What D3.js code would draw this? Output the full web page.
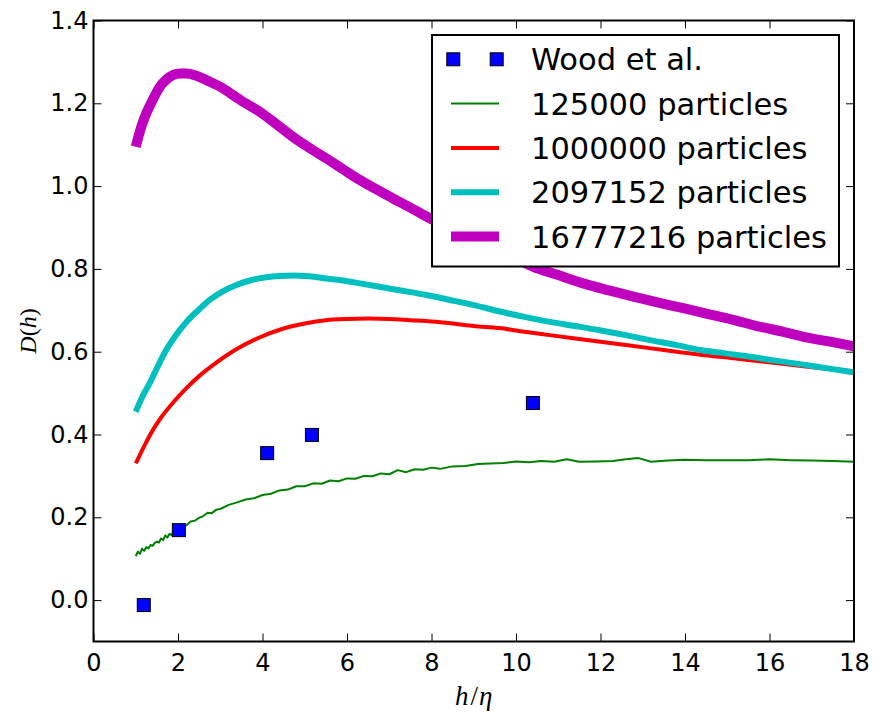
<!DOCTYPE html>
<html lang="en">
  <head>
      <meta charset="utf-8">
      <title>D(h) vs h/eta</title>
      <script type="text/javascript" src="https://cdn.jsdelivr.net/npm/d3@7"></script>
      <style>
        body { margin: 0; background: #fff; }
        text { font-family: "DejaVu Sans", sans-serif; }
      </style>
  </head>
  <body>
      <script type="text/javascript">

      // Wood et al. reference points
      var woodX = [1.19, 2.02, 4.11, 5.17, 10.4];
      var woodY = [-0.012, 0.169, 0.355, 0.399, 0.476];

      // 125000 particles
      var gX = [1.0,1.05,1.1,1.15,1.2,1.25,1.3,1.35,1.4,1.45,1.5,1.55,1.6,1.65,1.7,1.75,1.8,1.85,1.9,1.95,2.0,2.1,2.2,2.3,2.4,2.5,2.6,2.7,2.8,2.9,3.0,
                3.2,3.4,3.6,3.8,4.0,4.2,4.4,4.6,4.8,5.0,5.2,5.4,5.6,5.8,6.0,6.2,6.4,6.6,6.8,7.0,7.2,7.4,7.6,7.8,8.0,8.2,
                8.5,8.8,9.1,9.4,9.7,10.0,10.3,10.6,10.9,11.2,11.5,11.9,12.3,12.6,12.9,13.2,13.6,14.0,14.5,15.0,15.5,16.0,16.5,17.0,17.5,18.0];
      var gY = [0.106,0.117,0.112,0.124,0.119,0.128,0.125,0.133,0.131,0.138,0.141,0.139,0.149,0.145,0.156,0.151,0.160,0.157,0.167,0.163,0.170,0.178,0.181,0.190,0.192,0.199,0.203,0.211,0.210,0.218,0.220,
                0.230,0.236,0.243,0.246,0.254,0.257,0.265,0.267,0.275,0.275,0.282,0.281,0.289,0.287,0.294,0.293,0.300,0.299,0.306,0.304,0.314,0.309,0.316,0.315,0.320,0.317,
                0.323,0.324,0.329,0.330,0.331,0.335,0.333,0.336,0.334,0.340,0.334,0.335,0.336,0.340,0.343,0.334,0.337,0.339,0.338,0.338,0.338,0.340,0.338,0.337,0.336,0.334];

      // 1000000 particles
      var rX = [1.0,1.2,1.4,1.6,1.9,2.2,2.5,2.9,3.4,3.9,4.5,5.0,5.5,6.0,6.5,7.0,7.5,8.0,8.5,9.0,9.6,10.2,10.8,11.4,12.0,12.6,13.2,13.8,14.4,15.0,15.6,16.2,16.8,17.4,18.0];
      var rY = [0.330,0.372,0.410,0.441,0.479,0.512,0.541,0.573,0.607,0.633,0.656,0.668,0.676,0.679,0.680,0.679,0.676,0.673,0.668,0.662,0.657,0.648,0.640,0.632,0.624,0.616,0.608,0.600,0.592,0.586,0.579,0.572,0.565,0.558,0.551];

      // 2097152 particles
      var cX = [1.0,1.15,1.33,1.5,1.72,1.95,2.2,2.5,2.75,3.05,3.38,3.7,4.09,4.4,4.72,5.1,5.51,5.9,6.3,6.7,7.09,7.5,7.88,8.44,8.98,9.62,10.2,10.8,11.4,11.98,12.6,13.17,13.8,14.36,14.95,15.54,16.1,16.72,17.3,18.0];
      var cY = [0.455,0.490,0.524,0.560,0.604,0.640,0.672,0.702,0.725,0.745,0.761,0.772,0.780,0.783,0.784,0.782,0.777,0.772,0.765,0.758,0.751,0.744,0.737,0.725,0.713,0.697,0.684,0.672,0.662,0.652,0.640,0.628,0.616,0.604,0.596,0.588,0.579,0.570,0.561,0.550];

      // 16777216 particles
      var mX = [1.0,1.12,1.25,1.4,1.57,1.72,1.88,2.05,2.2,2.45,2.67,3.0,3.3,3.6,3.93,4.3,4.72,5.1,5.51,5.9,6.3,6.7,7.09,7.5,7.96,8.5,9.0,9.5,10.0,10.41,11.0,11.59,12.2,12.78,13.4,13.96,14.55,15.14,15.7,16.33,16.9,17.5,18.0];
      var mY = [1.095,1.140,1.176,1.208,1.240,1.257,1.268,1.272,1.272,1.266,1.256,1.240,1.220,1.200,1.180,1.152,1.119,1.093,1.067,1.041,1.015,0.992,0.970,0.948,0.922,0.895,0.870,0.846,0.824,0.805,0.785,0.765,0.748,0.733,0.718,0.705,0.691,0.677,0.662,0.648,0.634,0.623,0.613];

      var xTicks = [0, 2, 4, 6, 8, 10, 12, 14, 16, 18];
      var yTicks = [0.0, 0.2, 0.4, 0.6, 0.8, 1.0, 1.2, 1.4];
      var legendNames = ["Wood et al.", "125000 particles", "1000000 particles", "2097152 particles", "16777216 particles"];

      var w = 873;
      var h = 713;
      var pl = 93.5, pr = 854, pt = 20.5, pb = 641.5;

      var svg = d3.select("body").append("svg").attr("width", w).attr("height", h);

      var x = d3.scaleLinear().domain([0, 18]).range([pl, pr]);
      var y = d3.scaleLinear().domain([-0.1, 1.4]).range([pb, pt]);

      svg.append("clipPath").attr("id", "clip").append("rect")
        .attr("x", pl).attr("y", pt).attr("width", pr - pl).attr("height", pb - pt);

      var plot = svg.append("g").attr("clip-path", "url(#clip)");

      var series = [
        {xs: gX, ys: gY, color: "#008000", width: 2, smooth: false},
        {xs: rX, ys: rY, color: "#ff0000", width: 4, smooth: true},
        {xs: cX, ys: cY, color: "#00bfbf", width: 6, smooth: true},
        {xs: mX, ys: mY, color: "#bf00bf", width: 10, smooth: true}
      ];

      series.forEach(function(s) {
        var pts = s.xs.map(function(v, i){ return [v, s.ys[i]]; });
        var line = d3.line().x(function(d){ return x(d[0]); }).y(function(d){ return y(d[1]); })
          .curve(s.smooth ? d3.curveMonotoneX : d3.curveLinear);
        plot.append("path").datum(pts).attr("d", line)
          .attr("fill", "none").attr("stroke", s.color).attr("stroke-width", s.width)
          .attr("stroke-linejoin", "round");
      });

      // Wood et al. squares
      var ms = 13;
      plot.selectAll("rect.wood").data(woodX).enter().append("rect").attr("class", "wood")
        .attr("x", function(d){ return x(d) - ms / 2; })
        .attr("y", function(d, i){ return y(woodY[i]) - ms / 2; })
        .attr("width", ms).attr("height", ms)
        .attr("fill", "#0000ff").attr("stroke", "#000").attr("stroke-width", 1);

      // Axes, ticks pointing inward
      var fmtY = d3.format(".1f");
      function styleAxis(g) {
        g.select(".domain").remove();
        g.attr("font-size", null).attr("font-family", null);
        g.selectAll(".tick line").attr("stroke", "#000").attr("stroke-width", 1);
        g.selectAll(".tick text").style("font-size", "24px").attr("fill", "#000")
          .style("font-family", "'DejaVu Sans'");
      }
      svg.append("g").attr("transform", "translate(0," + pb + ")")
        .call(d3.axisBottom(x).tickValues(xTicks).tickSizeInner(-8).tickSizeOuter(0).tickPadding(12))
        .call(styleAxis);
      svg.append("g").attr("transform", "translate(0," + pt + ")")
        .call(d3.axisTop(x).tickValues(xTicks).tickSizeInner(-8).tickSizeOuter(0).tickFormat(""))
        .call(styleAxis);
      svg.append("g").attr("transform", "translate(" + pl + ",0)")
        .call(d3.axisLeft(y).tickValues(yTicks).tickFormat(fmtY).tickSizeInner(-8).tickSizeOuter(0).tickPadding(5))
        .call(styleAxis);
      svg.append("g").attr("transform", "translate(" + pr + ",0)")
        .call(d3.axisRight(y).tickValues(yTicks).tickSizeInner(-8).tickSizeOuter(0).tickFormat(""))
        .call(styleAxis);

      svg.append("rect").attr("x", pl).attr("y", pt).attr("width", pr - pl).attr("height", pb - pt)
        .attr("fill", "none").attr("stroke", "#000").attr("stroke-width", 2);

      // Axis labels
      var xl = svg.append("text").attr("x", (pl + pr) / 2).attr("y", 705)
        .attr("text-anchor", "middle").style("font-size", "27px")
        .style("font-family", "'Liberation Serif', serif");
      xl.append("tspan").attr("font-style", "italic").text("h");
      xl.append("tspan").attr("dx", 2).text("/");
      xl.append("tspan").attr("dx", 1).attr("font-style", "italic").text("η");

      var yl = svg.append("text").attr("transform", "translate(36," + ((pt + pb) / 2) + ") rotate(-90)")
        .attr("text-anchor", "middle").style("font-size", "24px")
        .style("font-family", "'Liberation Serif', serif");
      yl.append("tspan").attr("font-style", "italic").text("D");
      yl.append("tspan").text("(");
      yl.append("tspan").attr("font-style", "italic").text("h");
      yl.append("tspan").text(")");

      // Legend
      var lg = svg.append("g");
      lg.append("rect").attr("x", 432).attr("y", 35).attr("width", 407).attr("height", 231.5)
        .attr("fill", "#fff").attr("stroke", "#000").attr("stroke-width", 2);
      var rowY = function(i){ return 59.3 + i * 44.3; };
      [453.3, 496.7].forEach(function(mx) {
        lg.append("rect").attr("x", mx - ms / 2).attr("y", rowY(0) - ms / 2)
          .attr("width", ms).attr("height", ms)
          .attr("fill", "#0000ff").attr("stroke", "#000").attr("stroke-width", 1);
      });
      series.forEach(function(s, i) {
        lg.append("line").attr("x1", 451).attr("x2", 499).attr("y1", rowY(i + 1)).attr("y2", rowY(i + 1))
          .attr("stroke", s.color).attr("stroke-width", s.width);
      });
      lg.selectAll("text.lab").data(legendNames).enter().append("text").attr("class", "lab")
        .attr("x", 531).attr("y", function(d, i){ return rowY(i) + 11; })
        .style("font-size", "30.5px").attr("fill", "#000")
        .text(function(d){ return d; });

      </script>
  </body>
</html>
